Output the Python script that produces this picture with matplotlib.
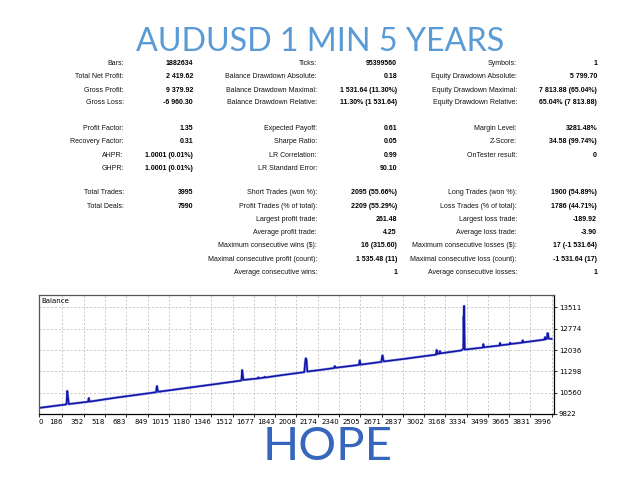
import matplotlib
matplotlib.use("Agg")
import matplotlib.pyplot as plt

# ---------------- data ----------------
col1_labels = ["Bars:", "Total Net Profit:", "Gross Profit:", "Gross Loss:",
               "Profit Factor:", "Recovery Factor:", "AHPR:", "GHPR:",
               "Total Trades:", "Total Deals:"]
col1_values = ["1882634", "2 419.62", "9 379.92", "-6 960.30",
               "1.35", "0.31", "1.0001 (0.01%)", "1.0001 (0.01%)",
               "3995", "7990"]

col2_labels = ["Ticks:", "Balance Drawdown Absolute:", "Balance Drawdown Maximal:",
               "Balance Drawdown Relative:", "Expected Payoff:", "Sharpe Ratio:",
               "LR Correlation:", "LR Standard Error:", "Short Trades (won %):",
               "Profit Trades (% of total):", "Largest profit trade:",
               "Average profit trade:", "Maximum consecutive wins ($):",
               "Maximal consecutive profit (count):", "Average consecutive wins:"]
col2_values = ["95399560", "0.18", "1 531.64 (11.30%)", "11.30% (1 531.64)",
               "0.61", "0.05", "0.99", "90.10", "2095 (55.66%)", "2209 (55.29%)",
               "261.48", "4.25", "16 (315.60)", "1 535.48 (11)", "1"]

col3_labels = ["Symbols:", "Equity Drawdown Absolute:", "Equity Drawdown Maximal:",
               "Equity Drawdown Relative:", "Margin Level:", "Z-Score:",
               "OnTester result:", "", "Long Trades (won %):",
               "Loss Trades (% of total):", "Largest loss trade:",
               "Average loss trade:", "Maximum consecutive losses ($):",
               "Maximal consecutive loss (count):", "Average consecutive losses:"]
col3_values = ["1", "5 799.70", "7 813.88 (65.04%)", "65.04% (7 813.88)",
               "3281.48%", "34.58 (99.74%)", "0", "", "1900 (54.89%)",
               "1786 (44.71%)", "-189.92", "-3.90", "17 (-1 531.64)",
               "-1 531.64 (17)", "1"]

trades = [0, 210, 218, 224, 230, 236, 300, 385, 392, 398, 600, 800,
          915, 922, 927, 932, 1100, 1300, 1500, 1580, 1586, 1590, 1595,
          1705, 1712, 1718, 1755, 1761, 1767, 1900, 2070, 2076, 2081, 2087,
          2093, 2200, 2300, 2307, 2313, 2495, 2502, 2508, 2670, 2675, 2679,
          2683, 2688, 2850, 3000, 3095, 3100, 3106, 3120, 3125, 3130, 3290,
          3302, 3308, 3310, 3312, 3314, 3316, 3319, 3460, 3464, 3469, 3590,
          3594, 3598, 3668, 3672, 3676, 3765, 3770, 3775, 3930, 3940, 3944,
          3948, 3958, 3963, 3968, 3972, 3995]
balance = [10030, 10150, 10160, 10620, 10400, 10165, 10200, 10245, 10375, 10250,
           10385, 10505, 10575, 10790, 10680, 10590, 10690, 10810, 10930, 10980,
           11340, 11200, 11000, 11050, 11090, 11055, 11080, 11110, 11085, 11170,
           11270, 11600, 11750, 11700, 11290, 11350, 11410, 11480, 11420, 11520,
           11680, 11530, 11625, 11800, 11850, 11760, 11640, 11730, 11820, 11875,
           12040, 11900, 11910, 12000, 11920, 12020, 12050, 12100, 13200, 12700,
           13560, 12800, 12050, 12120, 12240, 12130, 12190, 12280, 12200, 12235,
           12290, 12245, 12290, 12370, 12300, 12390, 12400, 12480, 12410, 12420,
           12620, 12600, 12430, 12420]

x_ticks = [0, 186, 352, 518, 683, 849, 1015, 1180, 1346, 1512, 1677, 1843, 2008,
           2174, 2340, 2505, 2671, 2837, 3002, 3168, 3334, 3499, 3665, 3831, 3996]
y_ticks = [9822, 10560, 11298, 12036, 12774, 13511]

title_text = "AUDUSD 1 MIN 5 YEARS"
footer_text = "HOPE"

# ---------------- figure ----------------
W, H = 640, 480
fig = plt.figure(figsize=(6.4, 4.8), dpi=100)
fig.patch.set_facecolor("white")

def fx(px):
    return px / W

def fy(py):
    return 1 - py / H

fig.text(fx(320), fy(42), title_text, ha="center", va="center",
         fontsize=23.2, color="#5b9bd5", family=["Lato", "DejaVu Sans"])

tfont = ["Liberation Sans", "DejaVu Sans"]
tsize = 5.0
rows_y = [63.5, 77, 90, 103, 128, 141.5, 155, 168,
          193, 206.5, 220, 233, 246, 259.5, 272.5]

def draw_col(labels, values, lx, vx):
    for i, (lab, val) in enumerate(zip(labels, values)):
        y = rows_y[i]
        if lab:
            fig.text(fx(lx), fy(y), lab, ha="right", va="center",
                     fontsize=tsize, family=tfont, color="#111111")
        if val:
            fig.text(fx(vx), fy(y), val, ha="right", va="center",
                     fontsize=tsize, family=tfont, color="black",
                     fontweight="bold")

draw_col(col1_labels, col1_values, 124, 193)
draw_col(col2_labels, col2_values, 317, 397)
draw_col(col3_labels, col3_values, 517, 597)

# ---------------- balance chart ----------------
left, right, top, bottom = 38.5, 554, 295, 414
ax = fig.add_axes([fx(left), fy(bottom), fx(right - left), (bottom - top) / H])
ax.plot(trades, balance, color="#9aa8ea", lw=1.9)
ax.plot(trades, balance, color="#1414a8", lw=1.15)
ax.set_xlim(0, 4014)
ax.set_ylim(9822, 13939)
ax.set_xticks(x_ticks)
ax.set_xticklabels([str(t) for t in x_ticks])
ax.set_yticks(y_ticks)
ax.set_yticklabels([str(t) for t in y_ticks])
ax.yaxis.tick_right()
ax.tick_params(axis="both", labelsize=5, length=2, width=0.6, pad=1.5,
               colors="black")
for lab in ax.get_xticklabels():
    lab.set_horizontalalignment("right")
ax.get_xticklabels()[0].set_horizontalalignment("left")
ax.grid(True, color="#c8c8c8", linestyle=(0, (2, 2)), lw=0.7)
for s in ax.spines.values():
    s.set_color("black")
    s.set_linewidth(0.9)
ax.spines["top"].set_color("#555555")
ax.spines["left"].set_color("#555555")
ax.text(0.006, 0.975, "Balance", transform=ax.transAxes, ha="left", va="top",
        fontsize=5, color="black")

fig.text(fx(328), fy(447), footer_text, ha="center", va="center",
         fontsize=34, color="#3766bd", family=["Lato", "DejaVu Sans"])

fig.savefig("out.png", dpi=100)
